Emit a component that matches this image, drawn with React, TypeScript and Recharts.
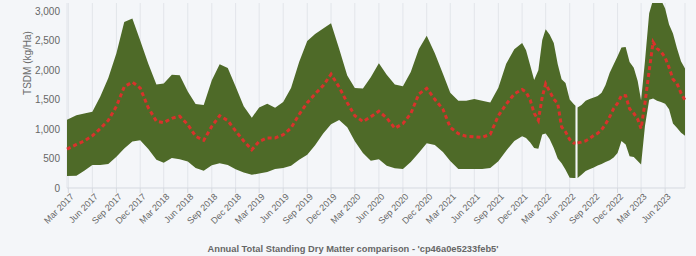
import React from "react";
import { ComposedChart, Area, Line, XAxis, YAxis, CartesianGrid } from "recharts";

// sample dates (monthly to late 2021, then twice a month)
const DATES = [
  "2017-02-24", "2017-04-01", "2017-05-01", "2017-06-01", "2017-07-01", "2017-08-01",
  "2017-09-01", "2017-10-01", "2017-11-01", "2017-12-01",
  "2018-01-01", "2018-02-01", "2018-03-01", "2018-04-01", "2018-05-01", "2018-06-01",
  "2018-07-01", "2018-08-01", "2018-09-01", "2018-10-01", "2018-11-01", "2018-12-01",
  "2019-01-01", "2019-02-01", "2019-03-01", "2019-04-01", "2019-05-01", "2019-06-01",
  "2019-07-01", "2019-08-01", "2019-09-01", "2019-10-01", "2019-11-01", "2019-12-01",
  "2020-01-01", "2020-02-01", "2020-03-01", "2020-04-01", "2020-05-01", "2020-06-01",
  "2020-07-01", "2020-08-01", "2020-09-01", "2020-10-01", "2020-11-01", "2020-12-01",
  "2021-01-01", "2021-02-01", "2021-03-01", "2021-04-01", "2021-05-01", "2021-06-01",
  "2021-07-01", "2021-08-01", "2021-09-01", "2021-10-01", "2021-11-01",
  "2021-12-01", "2021-12-16",
  "2022-01-01", "2022-01-16", "2022-02-01", "2022-02-16", "2022-03-01", "2022-03-16",
  "2022-04-01", "2022-04-16", "2022-05-01", "2022-05-16", "2022-06-01", "2022-06-16",
  "2022-06-23", "2022-06-27",
  "2022-07-01", "2022-07-16", "2022-08-01", "2022-08-16", "2022-09-01", "2022-09-16",
  "2022-10-01", "2022-10-16", "2022-11-01", "2022-11-16", "2022-12-01", "2022-12-16",
  "2023-01-01", "2023-01-16", "2023-02-01", "2023-02-16", "2023-03-01", "2023-03-16",
  "2023-04-01", "2023-04-16", "2023-05-01", "2023-05-16", "2023-06-01", "2023-06-16",
  "2023-07-01", "2023-07-16", "2023-08-01", "2023-08-16",
];

const HIGH = [
  1160, 1235, 1265, 1296, 1550, 1870, 2290, 2820, 2880, 2506,
  2114, 1760, 1775, 1927, 1915, 1640, 1430, 1410, 1830, 2105, 2040, 1725,
  1390, 1195, 1370, 1432, 1364, 1460, 1700, 2140, 2500, 2620, 2711, 2800,
  2366, 1913, 1700, 1690, 1881, 2120, 1925, 1758, 1730, 1970, 2365, 2590,
  2292, 1944, 1620, 1483, 1485, 1515, 1485, 1455, 1705, 2111, 2359,
  2466, 2343,
  2083, 1835, 2000, 2518, 2700, 2608, 2463, 2108, 1850, 1785, 1506, 1430,
  1400, null,
  1370, 1410, 1485, 1515, 1540, 1565, 1620, 1750, 1960, 2100, 2240, 2387,
  2396, 2143, 2046, 1819, 1490, 2165, 2970, 3200, 3200, 3200, 3052, 2780,
  2626, 2380, 2150, 2030,
];

const LOW = [
  205, 210, 295, 392, 392, 408, 530, 670, 790, 810,
  665, 480, 430, 510, 490, 450, 340, 292, 385, 422, 392, 320,
  265, 225, 245, 270, 324, 338, 380, 480, 565, 725, 925, 1085,
  1155, 1031, 795, 595, 462, 490, 380, 335, 324, 440, 600, 761,
  730, 610, 460, 324, 324, 324, 324, 338, 456, 635, 800,
  880, 850,
  775, 680, 668, 910, 925, 835, 679, 500, 420, 310, 173, 168,
  170, null,
  170, 227, 290, 320, 350, 383, 410, 440, 470, 520, 597, 800,
  740, 540, 525, 457, 400, 1057, 1500, 1520, 1483, 1460, 1432, 1340,
  1095, 1025, 940, 887,
];

const MEDIAN = [
  660, 740, 800, 887, 1010, 1150, 1390, 1720, 1800, 1700,
  1364, 1135, 1110, 1185, 1220, 1080, 880, 810, 1050, 1230, 1145, 970,
  800, 650, 790, 852, 852, 905, 1020, 1250, 1450, 1600, 1740, 1935,
  1716, 1450, 1230, 1129, 1210, 1305, 1190, 1015, 1095, 1263, 1600, 1694,
  1508, 1340, 1031, 925, 880, 870, 860, 913, 1228, 1424, 1599,
  1675, 1630,
  1495, 1272, 1150, 1546, 1770, 1645, 1510, 1440, 1040, 955, 825, 765,
  765, null,
  767, 780, 800, 840, 895, 930, 989, 1084, 1210, 1350, 1440, 1575,
  1570, 1347, 1270, 1170, 1010, 1450, 1994, 2480, 2370, 2320, 2217, 2050,
  1850, 1780, 1610, 1490,
];

const TICK_DATES = [
  "2017-03-01", "2017-06-01", "2017-09-01", "2017-12-01",
  "2018-03-01", "2018-06-01", "2018-09-01", "2018-12-01",
  "2019-03-01", "2019-06-01", "2019-09-01", "2019-12-01",
  "2020-03-01", "2020-06-01", "2020-09-01", "2020-12-01",
  "2021-03-01", "2021-06-01", "2021-09-01", "2021-12-01",
  "2022-03-01", "2022-06-01", "2022-09-01", "2022-12-01",
  "2023-03-01", "2023-06-01",
];

const TICK_LABELS = [
  "Mar 2017", "Jun 2017", "Sep 2017", "Dec 2017",
  "Mar 2018", "Jun 2018", "Sep 2018", "Dec 2018",
  "Mar 2019", "Jun 2019", "Sep 2019", "Dec 2019",
  "Mar 2020", "Jun 2020", "Sep 2020", "Dec 2020",
  "Mar 2021", "Jun 2021", "Sep 2021", "Dec 2021",
  "Mar 2022", "Jun 2022", "Sep 2022", "Dec 2022",
  "Mar 2023", "Jun 2023",
];

const Y_TICKS = [0, 500, 1000, 1500, 2000, 2500, 3000];

const TITLE = "Annual Total Standing Dry Matter comparison - 'cp46a0e5233feb5'";
const Y_LABEL = "TSDM (kg/Ha)";

const FONT = "'Liberation Sans', Arial, Helvetica, sans-serif";

const toTs = (d: string) => Date.parse(d + "T00:00:00Z");
const TICK_TS = TICK_DATES.map(toTs);

const data = DATES.map((d, i) => ({
  t: toTs(d),
  range: HIGH[i] == null ? null : [LOW[i], HIGH[i]],
  median: MEDIAN[i],
}));

function XTick({ x, y, payload }: any) {
  const idx = TICK_TS.indexOf(payload.value);
  return (
    <g transform={`translate(${x + 2},${y})`}>
      <text
        x={0}
        y={0}
        dy={6}
        textAnchor="end"
        transform="rotate(-45)"
        fontSize={9}
        fontFamily={FONT}
        fill="#666"
      >
        {TICK_LABELS[idx]}
      </text>
    </g>
  );
}

export default function App() {
  return (
    <div
      style={{
        position: "absolute",
        left: 0,
        top: 0,
        width: 696,
        height: 256,
        background: "#f4f6f9",
        fontFamily: FONT,
      }}
    >
      <ComposedChart
        width={696}
        height={256}
        data={data}
        margin={{ top: 3, right: 11, left: 11, bottom: 0 }}
      >
        <CartesianGrid horizontal={false} stroke="#e2e5ea" />
        <XAxis
          dataKey="t"
          type="number"
          domain={["dataMin", "dataMax"]}
          ticks={TICK_TS}
          tick={<XTick />}
          height={68}
          interval={0}
          tickSize={5}
          tickMargin={0}
          stroke="#d5d9e0"
        />
        <YAxis
          type="number"
          domain={[0, 3145]}
          ticks={Y_TICKS}
          allowDataOverflow
          width={56}
          axisLine={false}
          tickLine={false}
          tickSize={0}
          tickMargin={7}
          tick={{ fontSize: 10, fill: "#666", fontFamily: FONT }}
          tickFormatter={(v: number) => v.toLocaleString("en-US")}
        />
        <Area
          dataKey="range"
          type="linear"
          fill="#4e6a28"
          fillOpacity={1}
          stroke="none"
          connectNulls={false}
          isAnimationActive={false}
          activeDot={false}
        />
        <Line
          dataKey="median"
          type="linear"
          stroke="#d8322b"
          strokeWidth={3}
          strokeDasharray="4 3"
          dot={false}
          connectNulls={false}
          isAnimationActive={false}
          activeDot={false}
        />
      </ComposedChart>
      <div
        style={{
          position: "absolute",
          left: 27,
          top: 63,
          transform: "translate(-50%, -50%) rotate(-90deg)",
          fontSize: 10,
          color: "#6b6b6b",
          whiteSpace: "nowrap",
        }}
      >
        {Y_LABEL}
      </div>
      <div
        style={{
          position: "absolute",
          left: 353,
          top: 243,
          transform: "translateX(-50%)",
          fontSize: 9.3,
          lineHeight: "12px",
          fontWeight: "bold",
          color: "#666",
          whiteSpace: "nowrap",
        }}
      >
        {TITLE}
      </div>
    </div>
  );
}
